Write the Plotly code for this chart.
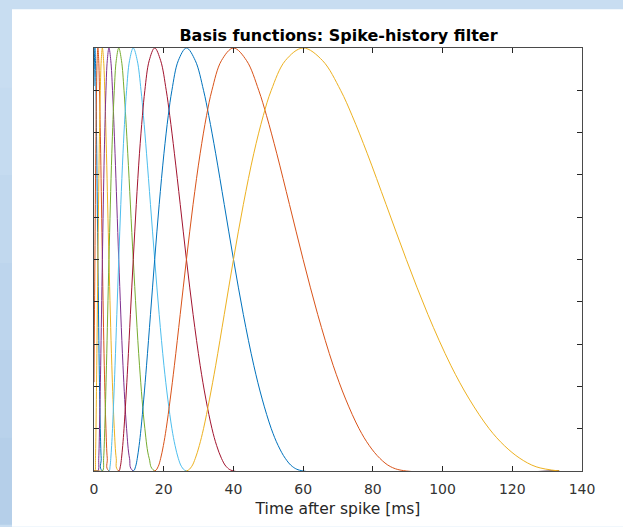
import plotly.graph_objects as go

# ---- data (time in ms, basis amplitude 0..1) ----
Y_FULL = [0, 0, 0.03, 0.1, 0.25, 0.5, 0.75, 0.9, 0.97, 1, 0.97, 0.9, 0.75, 0.5, 0.25, 0.1, 0.03, 0, 0]
Y_DENSE = [0, 0, 0.01, 0.03, 0.06, 0.1, 0.17, 0.25, 0.37, 0.5, 0.63, 0.75, 0.84, 0.9, 0.97, 1,
           0.97, 0.9, 0.84, 0.75, 0.63, 0.5, 0.37, 0.25, 0.17, 0.1, 0.06, 0.03, 0.01, 0, 0]

b1_y = [0.91, 1, 0.97, 0.9, 0.75, 0.5, 0.25, 0.1, 0.03, 0, 0]
b1_t = [0, 0.26, 0.42, 0.57, 0.79, 1.12, 1.49, 1.81, 2.07, 2.40, 133.42]

b2_y = [0.21, 0.5, 0.75, 0.9, 0.97, 1, 0.97, 0.9, 0.75, 0.5, 0.25, 0.1, 0.03, 0, 0]
b2_t = [0, 0.26, 0.51, 0.72, 0.90, 1.12, 1.36, 1.58, 1.92, 2.40, 2.95, 3.43, 3.81, 4.29, 133.42]

b3_t = [0, 0.26, 0.42, 0.57, 0.79, 1.12, 1.49, 1.81, 2.07, 2.40, 2.76, 3.09, 3.58, 4.29, 5.11, 5.82, 6.38, 7.10, 133.42]
b4_t = [0, 1.12, 1.36, 1.58, 1.92, 2.40, 2.95, 3.43, 3.81, 4.29, 4.82, 5.31, 6.04, 7.10, 8.31, 9.35, 10.19, 11.25, 133.42]
b5_t = [0, 2.40, 2.76, 3.09, 3.58, 4.29, 5.11, 5.82, 6.38, 7.10, 7.89, 8.61, 9.69, 11.26, 13.05, 14.59, 15.83, 17.41, 133.42]
b6_t = [0, 4.29, 4.59, 4.82, 5.06, 5.31, 5.67, 6.04, 6.55, 7.10, 7.69, 8.31, 8.88, 9.35, 10.19, 11.26,
        12.42, 13.49, 14.18, 15.08, 16.20, 17.41, 18.70, 20.06, 21.17, 22.35, 23.26, 24.18, 25.15, 26.52, 133.42]
b7_t = [0, 7.10, 7.54, 7.89, 8.24, 8.61, 9.14, 9.69, 10.44, 11.26, 12.13, 13.04, 13.89, 14.59, 15.83, 17.41,
        19.13, 20.72, 21.74, 23.08, 24.74, 26.52, 28.43, 30.45, 32.09, 33.85, 35.19, 36.56, 37.99, 40.02, 133.42]
b8_t = [0, 11.26, 11.91, 12.42, 12.94, 13.49, 14.27, 15.08, 16.20, 17.41, 18.70, 20.06, 21.30, 22.35, 24.18, 26.52,
        29.07, 31.42, 32.93, 34.92, 37.37, 40.02, 42.84, 45.83, 48.25, 50.86, 52.84, 54.87, 57.00, 60.00, 133.42]
b9_t = [0, 17.41, 18.38, 19.13, 19.90, 20.71, 21.87, 23.07, 24.73, 26.52, 28.42, 30.44, 32.28, 33.83, 36.55, 40.01,
        43.79, 47.26, 49.50, 52.45, 56.08, 60.00, 64.18, 68.60, 72.19, 76.05, 78.98, 81.99, 85.14, 89.58, 133.42]
b10_y = Y_DENSE[:-1]
b10_t = [0, 26.52, 27.96, 29.07, 30.21, 31.42, 33.14, 34.92, 37.37, 40.01, 42.84, 45.82, 48.56, 50.85, 54.87, 60.00,
         65.59, 70.75, 74.06, 78.42, 83.80, 89.60, 95.79, 102.35, 107.66, 113.37, 117.72, 122.18, 126.84, 133.42]

x_ticks = [0, 20, 40, 60, 80, 100, 120, 140]

colors = ['#0072BD', '#D95319', '#EDB120', '#7E2F8E', '#77AC30',
          '#4DBEEE', '#A2142F', '#0072BD', '#D95319', '#EDB120']

series = [(b1_t, b1_y), (b2_t, b2_y), (b3_t, Y_FULL), (b4_t, Y_FULL), (b5_t, Y_FULL),
          (b6_t, Y_DENSE), (b7_t, Y_DENSE), (b8_t, Y_DENSE), (b9_t, Y_DENSE), (b10_t, b10_y)]

fig = go.Figure()
for (t, y), c in zip(series, colors):
    fig.add_trace(go.Scatter(x=t, y=y, mode='lines',
                             line=dict(color=c, width=1.0, shape='spline', smoothing=1.0),
                             showlegend=False, hoverinfo='skip'))

W, H = 623, 527
L, R, T, B = 94, 582, 48, 473

def px_to_paper_x(px):
    return (px - L) / (R - L)

def px_to_paper_y(py):
    return (B - py) / (B - T)

shapes = []
# light-blue window background with a soft vertical gradient on the left strip
bands = ['#c8ddf1', '#c5dbf0', '#c1d8ee', '#bdd5ed', '#b9d2eb', '#b5cfe9']
nb = len(bands)
for i, col in enumerate(bands):
    shapes.append(dict(type='rect', xref='paper', yref='paper', layer='below',
                       x0=px_to_paper_x(0), x1=px_to_paper_x(12),
                       y0=px_to_paper_y(H * (i + 1) / nb), y1=px_to_paper_y(H * i / nb),
                       fillcolor=col, line=dict(width=0)))
shapes.append(dict(type='rect', xref='paper', yref='paper', layer='below',
                   x0=px_to_paper_x(12), x1=px_to_paper_x(W + 2),
                   y0=px_to_paper_y(H + 2), y1=px_to_paper_y(9),
                   fillcolor='white', line=dict(width=0)))

fig.update_layout(
    width=W, height=H,
    margin=dict(l=L, r=W - R, t=T, b=H - B, pad=0),
    paper_bgcolor='#c8ddf1', plot_bgcolor='white',
    shapes=shapes,
    title=dict(text='<b>Basis functions: Spike-history filter</b>',
               x=px_to_paper_x(338.5), xref='paper', xanchor='center',
               y=1 - 35 / H, yref='container', yanchor='middle',
               font=dict(family='DejaVu Sans', size=16, color='#000000')),
    font=dict(family='DejaVu Sans', color='#262626'),
)
fig.update_xaxes(range=[0, 140], tickvals=x_ticks, ticktext=[str(v) for v in x_ticks],
                 ticks='inside', ticklen=5, tickwidth=1, tickcolor='#262626',
                 showline=True, linecolor='#4a4a4a', linewidth=1, mirror='ticks',
                 showgrid=False, zeroline=False, ticklabelstandoff=5,
                 tickfont=dict(family='DejaVu Sans', size=14, color='#333333'),
                 title=dict(text='Time after spike [ms]', standoff=7,
                            font=dict(family='DejaVu Sans', size=15.5, color='#262626')))
fig.update_yaxes(range=[0, 1], dtick=0.1, tick0=0, showticklabels=False,
                 ticks='inside', ticklen=5, tickwidth=1, tickcolor='#262626',
                 showline=True, linecolor='#4a4a4a', linewidth=1, mirror='ticks',
                 showgrid=False, zeroline=False)

fig.write_html('out.html')
